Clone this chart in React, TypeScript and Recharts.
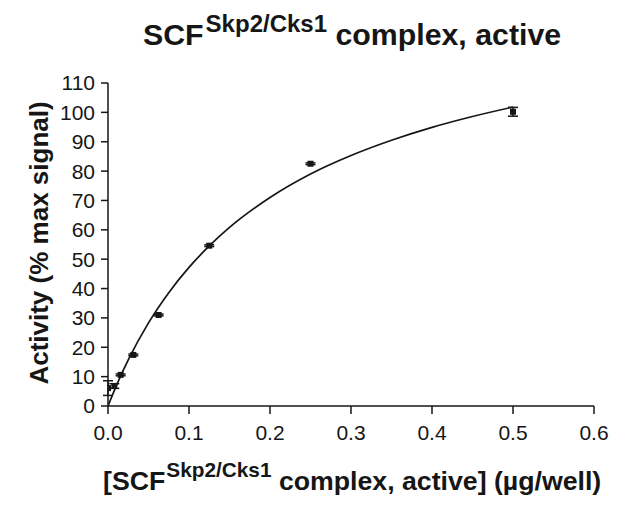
import React from 'react';
import { ComposedChart, Line, Scatter, ErrorBar, XAxis, YAxis } from 'recharts';

// measured points (mean ± error)
const dose = [0, 0.0078, 0.0156, 0.03125, 0.0625, 0.125, 0.25, 0.5];
const activity = [6.1, 6.8, 10.6, 17.4, 31, 54.6, 82.5, 100.2];
const errors = [2.5, 0.8, 0.3, 0.3, 0.3, 0.3, 0.3, 1.5];

// fitted curve
const curveX = [0, 0.0125, 0.025, 0.05, 0.075, 0.1, 0.125, 0.15, 0.2, 0.25, 0.3, 0.35, 0.4, 0.45, 0.5];
const curveY = [0, 8.3, 15.7, 28.3, 38.6, 47.2, 54.5, 60.8, 71, 79, 85.3, 90.5, 94.9, 98.6, 101.8];

const xTicks = [0, 0.1, 0.2, 0.3, 0.4, 0.5, 0.6];
const yTicks = [0, 10, 20, 30, 40, 50, 60, 70, 80, 90, 100, 110];

const points = dose.map((x, i) => ({ x, y: activity[i], err: errors[i] }));
const curve = curveX.map((x, i) => ({ x, y: curveY[i] }));

const ink = '#161616';
const font = '"Liberation Sans", Arial, Helvetica, sans-serif';

const SquareDot = (props: any) => (
  <rect x={props.cx - 3} y={props.cy - 3} width={6} height={6} fill={ink} />
);

export default function App() {
  return (
    <div style={{ position: 'absolute', left: 0, top: 0, width: 640, height: 507, background: '#fff', fontFamily: font }}>
      <ComposedChart
        width={640}
        height={507}
        margin={{ top: 83, right: 46, bottom: 41, left: 48 }}
      >
        <XAxis
          type="number"
          dataKey="x"
          domain={[0, 0.6]}
          ticks={xTicks}
          tickFormatter={(v: number) => v.toFixed(1)}
          height={60}
          tickSize={8}
          tickMargin={11}
          stroke={ink}
          strokeWidth={1.5}
          tick={{ fill: ink, fontSize: 21, fontFamily: font }}
          allowDataOverflow
        />
        <YAxis
          type="number"
          dataKey="y"
          domain={[0, 110]}
          ticks={yTicks}
          width={60}
          tickSize={7}
          tickMargin={6}
          stroke={ink}
          strokeWidth={1.5}
          tick={{ fill: ink, fontSize: 21, fontFamily: font }}
          interval={0}
          allowDataOverflow
        />
        <Line
          data={curve}
          dataKey="y"
          type="monotone"
          dot={false}
          stroke={ink}
          strokeWidth={1.7}
          isAnimationActive={false}
        />
        <Scatter data={points} dataKey="y" shape={SquareDot} isAnimationActive={false}>
          <ErrorBar dataKey="err" direction="y" width={5} stroke={ink} strokeWidth={1.5} />
        </Scatter>
      </ComposedChart>
      <svg width={640} height={507} style={{ position: 'absolute', left: 0, top: 0, pointerEvents: 'none' }}>
        <text x={143} y={45} fontFamily={font} fontWeight="bold" fontSize={30.3} fill={ink}>
          SCF
          <tspan fontSize={24} dy={-13} dx={2}>Skp2/Cks1</tspan>
          <tspan dy={13}> complex, active</tspan>
        </text>
        <text x={103} y={490} fontFamily={font} fontWeight="bold" fontSize={26.7} fill={ink}>
          [SCF
          <tspan fontSize={20.8} dy={-13} dx={1}>Skp2/Cks1</tspan>
          <tspan dy={13}> complex, active] (µg/well)</tspan>
        </text>
        <text
          x={0}
          y={0}
          transform="translate(48, 243) rotate(-90)"
          textAnchor="middle"
          fontFamily={font}
          fontWeight="bold"
          fontSize={26}
          fill={ink}
        >
          Activity (% max signal)
        </text>
      </svg>
    </div>
  );
}
